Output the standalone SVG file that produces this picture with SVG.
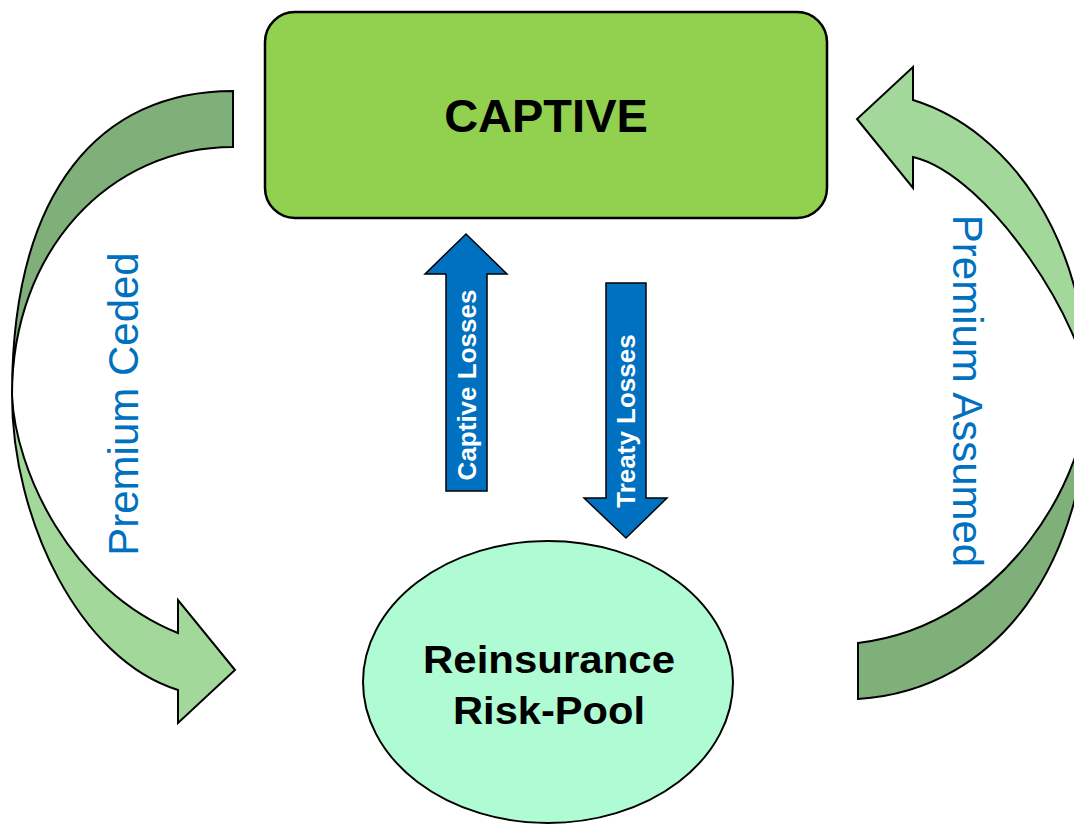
<svg xmlns="http://www.w3.org/2000/svg" width="1074" height="825" viewBox="0 0 1074 825">
  <style>
    .lbl { font-family: "Liberation Sans", Arial, sans-serif; }
    .bold { font-weight: bold; }
    .dark { fill: #80B07A; stroke: #000; stroke-width: 2; stroke-linejoin: miter; }
    .light { fill: #A2D99A; stroke: #000; stroke-width: 2; stroke-linejoin: miter; }
    .blue { fill: #0070C0; stroke: #000; stroke-width: 1.5; }
    .side { fill: #0070C0; font-size: 42px; }
    .inarrow { fill: #FFFFFF; font-size: 26px; font-weight: bold; }
  </style>
  <rect width="1074" height="825" fill="#FFFFFF"/>

  <g id="connectors">
    <g id="premium-ceded">
      <path class="dark" d="M233,91 C100,91 12,190 12,395 C12,250 110,147 233,147 Z"/>
      <path class="light" d="M12,395 C12,520 80,660 178,690 L178,723 L235,670 L178,600 L178,633 C70,590 15,470 12,395 Z"/>
      <text class="lbl side" text-anchor="middle" transform="translate(138,404) rotate(-90)">Premium Ceded</text>
    </g>
    <g id="premium-assumed">
      <path class="light" d="M913,100 L913,67 L857,119 L913,188 L913,157 C990,175 1088,330 1088,392 C1088,240 1010,130 913,100 Z"/>
      <path class="dark" d="M1088,392 C1088,560 1000,690 858,699 L858,643 C1010,625 1088,470 1088,392 Z"/>
      <text class="lbl side" text-anchor="middle" transform="translate(953,391) rotate(90)">Premium Assumed</text>
    </g>
    <g id="captive-losses">
      <path class="blue" d="M446,491 L446,274 L425,274 L466,234 L507,274 L487,274 L487,491 Z"/>
      <text class="lbl inarrow" text-anchor="middle" transform="translate(476,385) rotate(-90)">Captive Losses</text>
    </g>
    <g id="treaty-losses">
      <path class="blue" d="M606,283 L646,283 L646,498 L667,498 L626,538 L584,498 L606,498 Z"/>
      <text class="lbl inarrow" text-anchor="middle" transform="translate(635,421) rotate(-90)">Treaty Losses</text>
    </g>
  </g>

  <g id="captive">
    <rect x="265" y="12" width="562" height="206" rx="30" ry="30" fill="#92D050" stroke="#000" stroke-width="2.5"/>
    <text class="lbl bold" x="546" y="132" font-size="47" text-anchor="middle" fill="#000">CAPTIVE</text>
  </g>

  <g id="risk-pool">
    <ellipse cx="548" cy="682" rx="185" ry="141" fill="#AEFBD4" stroke="#000" stroke-width="2"/>
    <text class="lbl bold" x="549" y="673" font-size="39" text-anchor="middle" fill="#000" textLength="252" lengthAdjust="spacingAndGlyphs">Reinsurance</text>
    <text class="lbl bold" x="549" y="724" font-size="39" text-anchor="middle" fill="#000" textLength="192" lengthAdjust="spacingAndGlyphs">Risk-Pool</text>
  </g>
</svg>
